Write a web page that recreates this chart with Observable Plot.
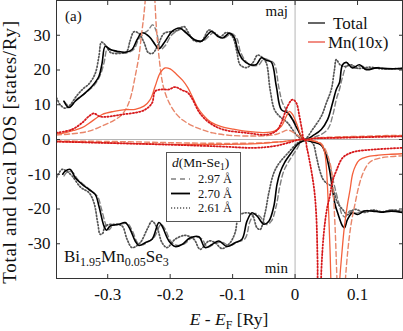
<!DOCTYPE html>
<html><head><meta charset="utf-8">
<script src="https://cdn.jsdelivr.net/npm/d3@7"></script>
<script src="https://cdn.jsdelivr.net/npm/@observablehq/plot@0.6"></script>
<style>
body{margin:0;background:#fff;}
#chart svg{overflow:visible;}
#chart svg text{font-family:"Liberation Serif",serif !important;}
</style></head><body><div id="chart"></div>
<script>
// ---------- data (E - E_F [Ry], DOS [states/Ry]) ----------
const xTicks = [-0.3, -0.2, -0.1, 0, 0.1];
const yTicks = [-30, -20, -10, 0, 10, 20, 30];
const distLabels = ["2.97 Å", "2.70 Å", "2.61 Å"];
const seriesLabels = ["Total", "Mn(10x)"];

// Total DOS, majority spin
const totalMaj297 = [[-0.37,11],[-0.36,9.5],[-0.35,11.5],[-0.335,13.5],[-0.322,15.5],[-0.312,18.5],[-0.306,22],[-0.300,26.3],[-0.292,25.5],[-0.28,25],[-0.268,25],[-0.258,26],[-0.25,29],[-0.242,30.5],[-0.235,31.5],[-0.228,33],[-0.222,31],[-0.215,26],[-0.208,27],[-0.198,30],[-0.188,31.3],[-0.18,31.8],[-0.17,30],[-0.158,28.5],[-0.146,28.5],[-0.13,30.8],[-0.12,29.5],[-0.112,29.3],[-0.102,30.5],[-0.093,29],[-0.088,25.5],[-0.08,22.8],[-0.07,21.3],[-0.058,21.5],[-0.05,23.3],[-0.044,23],[-0.034,22],[-0.026,15],[-0.02,10.5],[-0.009,7.2],[0.002,4.3],[0.012,0.5],[0.036,1],[0.052,2.9],[0.060,6.7],[0.066,11.5],[0.071,14.4],[0.076,18],[0.082,21],[0.088,21.5],[0.096,20.5],[0.106,21.2],[0.118,20.3],[0.134,20.7],[0.15,20.3],[0.172,20.5]];
const totalMaj270 = [[-0.37,11],[-0.362,9.2],[-0.352,11],[-0.336,13.4],[-0.325,15.3],[-0.314,18.2],[-0.309,22],[-0.304,26.8],[-0.296,25.9],[-0.285,25.4],[-0.272,25.1],[-0.261,25.9],[-0.253,28.7],[-0.245,30.7],[-0.234,29.7],[-0.224,27.3],[-0.218,26.1],[-0.208,28.3],[-0.197,31.1],[-0.185,32.1],[-0.174,30.6],[-0.161,28.7],[-0.150,28.3],[-0.134,31.1],[-0.124,29.7],[-0.116,29.2],[-0.105,30.6],[-0.097,29.2],[-0.092,25.9],[-0.084,23],[-0.073,21.6],[-0.062,21.6],[-0.054,23.5],[-0.046,22.8],[-0.038,22.3],[-0.030,15.3],[-0.022,8.6],[-0.012,7.7],[-0.004,5.7],[0.004,2.9],[0.015,0],[0.031,1.4],[0.042,2.9],[0.052,5.7],[0.060,10.5],[0.066,14.4],[0.071,16.3],[0.076,21.5],[0.082,22.2],[0.092,20.6],[0.103,21.5],[0.114,20.1],[0.130,20.6],[0.146,20.4],[0.172,20.4]];
const totalMaj261 = [[-0.382,12],[-0.376,10],[-0.368,9],[-0.36,10],[-0.35,12.5],[-0.34,14.5],[-0.33,16],[-0.32,19],[-0.314,24],[-0.31,28],[-0.303,27],[-0.295,25],[-0.28,24.8],[-0.27,25.2],[-0.264,28.5],[-0.258,31],[-0.25,30.5],[-0.242,28],[-0.235,25],[-0.228,24.8],[-0.22,27],[-0.21,30.5],[-0.2,31],[-0.19,31.3],[-0.178,32.5],[-0.17,30.5],[-0.162,28.5],[-0.15,28.3],[-0.138,31.5],[-0.128,30.5],[-0.12,29.5],[-0.11,30.8],[-0.1,29.5],[-0.093,25],[-0.088,21.5],[-0.078,20.7],[-0.068,22],[-0.06,24.3],[-0.052,23.5],[-0.046,22],[-0.04,14.4],[-0.033,8.6],[-0.025,6.7],[-0.012,4.8],[0.004,1],[0.015,0],[0.028,2.9],[0.042,6.7],[0.05,10.5],[0.058,14.4],[0.063,20],[0.066,23],[0.072,21.5],[0.08,21],[0.09,21.5],[0.1,20.5],[0.12,20.8],[0.14,20.3],[0.172,20.5]];

// Total DOS, minority spin
const totalMin297 = [[-0.37,-10.5],[-0.364,-9.2],[-0.356,-9.5],[-0.348,-11.5],[-0.337,-13.2],[-0.326,-14.8],[-0.316,-16.5],[-0.310,-20],[-0.302,-25],[-0.298,-26],[-0.292,-24.8],[-0.278,-24.3],[-0.268,-24.2],[-0.26,-26.5],[-0.252,-29.8],[-0.246,-30.4],[-0.236,-29.5],[-0.225,-28],[-0.215,-24.5],[-0.209,-25.5],[-0.198,-29.5],[-0.188,-30.5],[-0.177,-30],[-0.164,-28.2],[-0.150,-28.5],[-0.140,-31],[-0.129,-30],[-0.118,-29.5],[-0.105,-30.5],[-0.092,-29.5],[-0.08,-28.5],[-0.072,-23.5],[-0.064,-21.3],[-0.056,-22.2],[-0.046,-24.5],[-0.038,-23.5],[-0.030,-19],[-0.025,-14],[-0.018,-9],[-0.009,-6],[0.002,-3],[0.012,-0.5],[0.036,-1],[0.046,-2.5],[0.054,-6],[0.060,-11],[0.066,-15.5],[0.071,-19],[0.075,-21.5],[0.080,-22.3],[0.088,-20.5],[0.098,-21.2],[0.11,-20.5],[0.125,-20.4],[0.14,-20.8],[0.155,-20.3],[0.172,-20.8]];
const totalMin270 = [[-0.372,-10],[-0.368,-9.1],[-0.360,-8.6],[-0.352,-11],[-0.341,-12.9],[-0.330,-14.4],[-0.320,-15.8],[-0.314,-19.2],[-0.306,-24.9],[-0.302,-26.1],[-0.296,-24.9],[-0.282,-24.4],[-0.272,-23.9],[-0.264,-25.9],[-0.256,-29.2],[-0.250,-30.5],[-0.240,-29.7],[-0.229,-28.7],[-0.218,-23.9],[-0.213,-24.9],[-0.202,-29.2],[-0.192,-30.8],[-0.181,-30.2],[-0.168,-28.3],[-0.154,-28],[-0.144,-31.1],[-0.133,-30.2],[-0.122,-29.2],[-0.109,-30.8],[-0.096,-29.7],[-0.085,-28.7],[-0.077,-23.5],[-0.069,-21.1],[-0.061,-22],[-0.050,-24.4],[-0.042,-23.5],[-0.034,-19.2],[-0.029,-13],[-0.024,-9.5],[-0.017,-6.7],[-0.006,-3.8],[0.004,-1.4],[0.015,-0.3],[0.030,-0.8],[0.042,-1.6],[0.050,-4.8],[0.055,-8.6],[0.060,-14.4],[0.064,-18.7],[0.068,-21],[0.076,-24.9],[0.079,-25.4],[0.084,-23],[0.092,-21.1],[0.100,-21.6],[0.111,-20.6],[0.124,-20.6],[0.138,-20.9],[0.154,-20.6],[0.172,-21]];
const totalMin261 = [[-0.382,-11],[-0.373,-8.6],[-0.365,-9.2],[-0.357,-10.5],[-0.343,-13.8],[-0.33,-15.3],[-0.322,-18.2],[-0.316,-24],[-0.312,-27.3],[-0.308,-27],[-0.304,-24.9],[-0.29,-24.4],[-0.277,-24.9],[-0.269,-28.7],[-0.261,-31.1],[-0.248,-29.7],[-0.237,-25.9],[-0.229,-23.5],[-0.221,-25.4],[-0.213,-29.7],[-0.205,-31.1],[-0.192,-28.7],[-0.176,-27.6],[-0.162,-28.7],[-0.152,-31.6],[-0.138,-29.2],[-0.128,-29.7],[-0.117,-31.4],[-0.104,-29.7],[-0.096,-26.8],[-0.09,-22],[-0.08,-21.1],[-0.069,-21.6],[-0.061,-25.4],[-0.056,-25.9],[-0.048,-21.1],[-0.042,-15.3],[-0.034,-9.6],[-0.025,-6.7],[-0.012,-4],[0.004,-1],[0.015,0],[0.028,-1],[0.034,-4.8],[0.039,-8.6],[0.045,-11.5],[0.052,-12.8],[0.058,-13.4],[0.063,-15.5],[0.068,-18.2],[0.076,-20.1],[0.084,-21.6],[0.095,-20.1],[0.111,-21],[0.125,-20.3],[0.14,-20.8],[0.155,-20.3],[0.172,-20.6]];

// Mn local DOS (x10), majority spin
const mnMaj297 = [[-0.382,1.3],[-0.36,1.6],[-0.33,2.4],[-0.304,4.3],[-0.29,5.5],[-0.277,7.2],[-0.268,9.8],[-0.262,13],[-0.256,18.2],[-0.25,24],[-0.246,30],[-0.242,36],[-0.238,44],[-0.234,52],[-0.231,56],[-0.228,52],[-0.225,42],[-0.222,32],[-0.218,24],[-0.213,17],[-0.208,13.4],[-0.2,10],[-0.19,7.3],[-0.18,5.6],[-0.165,4],[-0.15,2.9],[-0.132,1.9],[-0.105,1.2],[-0.07,1.0],[-0.045,1.1],[-0.03,1.5],[-0.02,2.2],[-0.012,2.7],[-0.005,2.3],[0.005,1.1],[0.015,0],[0.03,0.4],[0.06,0.7],[0.1,0.9],[0.14,1.1],[0.172,1.2]];
const mnMaj270 = [[-0.382,1.6],[-0.367,2],[-0.355,2.6],[-0.341,3.4],[-0.325,5.3],[-0.309,7.2],[-0.29,8.1],[-0.272,8.6],[-0.256,8.7],[-0.242,9.6],[-0.232,11.5],[-0.224,15.3],[-0.216,19.2],[-0.208,20.6],[-0.2,20.3],[-0.19,18.8],[-0.18,17],[-0.172,15],[-0.165,12.5],[-0.157,9.5],[-0.147,7],[-0.135,5],[-0.118,3.7],[-0.1,3],[-0.08,2.4],[-0.05,2],[-0.033,2.4],[-0.022,3.8],[-0.014,6.7],[-0.009,8.1],[-0.004,7.2],[0.002,4.8],[0.01,1],[0.015,0],[0.03,0.3],[0.06,0.5],[0.1,0.7],[0.14,0.9],[0.172,1]];
const mnMaj261 = [[-0.382,1.9],[-0.357,2.9],[-0.341,4.8],[-0.33,6.7],[-0.322,7.5],[-0.314,6.7],[-0.306,6.5],[-0.29,6.8],[-0.277,7.2],[-0.256,7.7],[-0.24,8.6],[-0.229,10.5],[-0.224,13.9],[-0.213,14.4],[-0.202,14.4],[-0.192,15.1],[-0.181,14.2],[-0.172,13.5],[-0.164,11.5],[-0.153,7.7],[-0.137,4.8],[-0.116,2.9],[-0.078,1.9],[-0.046,1.4],[-0.03,2.5],[-0.022,4.8],[-0.012,9.6],[-0.004,11.5],[0.002,10.5],[0.007,6.7],[0.011,2.9],[0.015,0],[0.03,0.3],[0.07,0.5],[0.12,0.7],[0.172,0.9]];

// Mn local DOS (x10), minority spin
const mnMin297 = [[-0.382,-0.4],[-0.33,-0.5],[-0.28,-0.6],[-0.2,-0.9],[-0.12,-1.1],[-0.06,-1.0],[-0.02,-0.6],[0.015,0],[0.03,-0.4],[0.04,-0.9],[0.047,-2.4],[0.053,-5],[0.058,-8.6],[0.061,-15],[0.064,-25],[0.067,-40],[0.071,-60],[0.076,-60],[0.080,-42],[0.085,-31],[0.090,-24],[0.096,-18.5],[0.102,-13.5],[0.108,-10],[0.115,-7.5],[0.122,-6.2],[0.14,-5.2],[0.172,-4.7]];
const mnMin270 = [[-0.382,-0.6],[-0.33,-0.8],[-0.27,-1.1],[-0.2,-1.4],[-0.12,-1.4],[-0.06,-1.2],[-0.02,-0.6],[0.015,0],[0.031,-0.5],[0.042,-1.4],[0.047,-3.4],[0.05,-7.7],[0.052,-14],[0.054,-22],[0.056,-32],[0.058,-45],[0.062,-70],[0.067,-70],[0.071,-42],[0.075,-32.6],[0.079,-25],[0.084,-18.5],[0.088,-14.5],[0.092,-10],[0.097,-7.5],[0.103,-5.9],[0.115,-5],[0.13,-4.6],[0.15,-4.3],[0.172,-4.1]];
const mnMin261 = [[-0.382,-0.6],[-0.3,-1.0],[-0.2,-1.5],[-0.12,-2.0],[-0.065,-2.4],[-0.033,-1.9],[-0.012,-1],[0.015,0],[0.019,-2.5],[0.023,-6],[0.027,-10],[0.031,-15],[0.034,-22],[0.036,-35],[0.038,-55],[0.040,-55],[0.042,-38],[0.046,-27],[0.051,-20],[0.056,-16],[0.06,-12],[0.066,-9],[0.076,-5.3],[0.087,-4],[0.098,-3.4],[0.124,-2.9],[0.172,-2.4]];

// ---------- styles ----------
const C_TOT_DASH = "#808080", C_TOT_SOLID = "#000000", C_TOT_DOT = "#555555";
const C_MN_DASH = "#e8866a", C_MN_SOLID = "#f4603c", C_MN_DOT = "#d7191c";
const curves = [
  {data: totalMaj297, stroke: C_TOT_DASH, dash: "5,3", w: 1.4},
  {data: totalMin297, stroke: C_TOT_DASH, dash: "5,3", w: 1.4},
  {data: totalMaj261, stroke: C_TOT_DOT, dash: "1.2,2", w: 1.7},
  {data: totalMin261, stroke: C_TOT_DOT, dash: "1.2,2", w: 1.7},
  {data: totalMaj270, stroke: C_TOT_SOLID, dash: null, w: 1.6},
  {data: totalMin270, stroke: C_TOT_SOLID, dash: null, w: 1.6},
  {data: mnMaj297, stroke: C_MN_DASH, dash: "5,3", w: 1.4},
  {data: mnMin297, stroke: C_MN_DASH, dash: "5,3", w: 1.4},
  {data: mnMaj270, stroke: C_MN_SOLID, dash: null, w: 1.3},
  {data: mnMin270, stroke: C_MN_SOLID, dash: null, w: 1.3},
  {data: mnMaj261, stroke: C_MN_DOT, dash: "1.2,2", w: 1.8},
  {data: mnMin261, stroke: C_MN_DOT, dash: "1.2,2", w: 1.8}
];

const fmt = d => String(d);
const marks = [
  Plot.ruleX([0], {stroke: "#b5b5b5", strokeWidth: 1}),
  Plot.ruleY([0], {stroke: "#b5b5b5", strokeWidth: 1}),
  ...curves.map(c => Plot.line(c.data, {x: d => d[0], y: d => d[1], stroke: c.stroke, strokeWidth: c.w,
      strokeDasharray: c.dash, curve: "catmull-rom", clip: true})),
  Plot.frame({stroke: "#333"}),
  Plot.axisX(xTicks, {anchor: "bottom", tickSize: -4, tickPadding: 13, tickFormat: fmt, label: null, fontSize: 17, stroke: "#333", fill: "#111"}),
  Plot.axisX(xTicks, {anchor: "top", tickSize: -4, tickFormat: () => "", label: null, stroke: "#333"}),
  Plot.axisY(yTicks, {anchor: "left", tickSize: -4, tickPadding: 10, tickFormat: fmt, label: null, fontSize: 17, stroke: "#333", fill: "#111"}),
  Plot.axisY(yTicks, {anchor: "right", tickSize: -4, tickFormat: () => "", label: null, stroke: "#333"})
];

const plot = Plot.plot({
  width: 403, height: 331,
  marginLeft: 56, marginRight: 1, marginTop: 0, marginBottom: 53,
  x: {domain: [-0.382, 0.172]},
  y: {domain: [-40, 40]},
  style: {fontFamily: "Liberation Serif, serif", fontSize: "16px", color: "#222", background: "#fff"},
  marks
});
document.getElementById("chart").append(plot);

// ---------- annotations ----------
const svg = d3.select(plot);
const g = svg.append("g").attr("fill", "#111").attr("text-anchor", "start");

// y title
g.append("text").attr("transform", "translate(16,152) rotate(-90)").attr("text-anchor", "middle")
  .attr("font-size", 19).attr("letter-spacing", 0.7).text("Total and local DOS [states/Ry]");
// x title
const xt = g.append("text").attr("x", 229).attr("y", 325).attr("text-anchor", "middle").attr("font-size", 17.5);
xt.append("tspan").attr("font-style", "italic").text("E");
xt.append("tspan").text(" - ");
xt.append("tspan").attr("font-style", "italic").text("E");
xt.append("tspan").attr("font-size", 12).attr("dy", 4).text("F");
xt.append("tspan").attr("dy", -4).text(" [Ry]");

g.append("text").attr("x", 65).attr("y", 21).attr("font-size", 15).text("(a)");
g.append("text").attr("x", 288).attr("y", 16).attr("font-size", 15).attr("text-anchor", "end").text("maj");
g.append("text").attr("x", 288).attr("y", 273).attr("font-size", 15).attr("text-anchor", "end").text("min");

const bi = g.append("text").attr("x", 64).attr("y", 262).attr("font-size", 17);
[["Bi", false], ["1.95", true], ["Mn", false], ["0.05", true], ["Se", false], ["3", true]].forEach(([t, sub], i, arr) => {
  const prevSub = i > 0 && arr[i-1][1];
  const dy = sub ? 3.5 : (prevSub ? -3.5 : 0);
  bi.append("tspan").attr("dy", dy).attr("font-size", sub ? 12 : 17).text(t);
});

// series legend (top right)
const lg = [
  {label: seriesLabels[0], stroke: "#000", y: 23, tx: 333},
  {label: seriesLabels[1], stroke: "#e8412f", y: 42, tx: 328}
];
lg.forEach(l => {
  g.append("line").attr("x1", 308).attr("x2", 325).attr("y1", l.y).attr("y2", l.y).attr("stroke", l.stroke).attr("stroke-width", 1.2);
  g.append("text").attr("x", l.tx).attr("y", l.y + 5.5).attr("font-size", 17).text(l.label);
});

// distance legend box
g.append("rect").attr("x", 166.5).attr("y", 152.5).attr("width", 74).attr("height", 69)
  .attr("fill", "#fff").attr("stroke", "#555").attr("stroke-width", 1);
const hd = g.append("text").attr("x", 172).attr("y", 166.5).attr("font-size", 13.5);
hd.append("tspan").attr("font-style", "italic").text("d");
hd.append("tspan").text("(Mn-Se");
hd.append("tspan").attr("font-size", 9.5).attr("dy", 3).text("1");
hd.append("tspan").attr("dy", -3).text(")");
const rows = [
  {stroke: C_TOT_DASH, dash: "5,4", w: 1.3, y: 179},
  {stroke: "#000", dash: null, w: 1.8, y: 193.5},
  {stroke: C_TOT_DOT, dash: "1.2,1.8", w: 1.6, y: 208}
];
rows.forEach((r, i) => {
  g.append("line").attr("x1", 171).attr("x2", 190).attr("y1", r.y).attr("y2", r.y)
    .attr("stroke", r.stroke).attr("stroke-width", r.w).attr("stroke-dasharray", r.dash);
  g.append("text").attr("x", 198).attr("y", r.y + 4).attr("font-size", 12.5).text(distLabels[i]);
});
</script></body></html>
